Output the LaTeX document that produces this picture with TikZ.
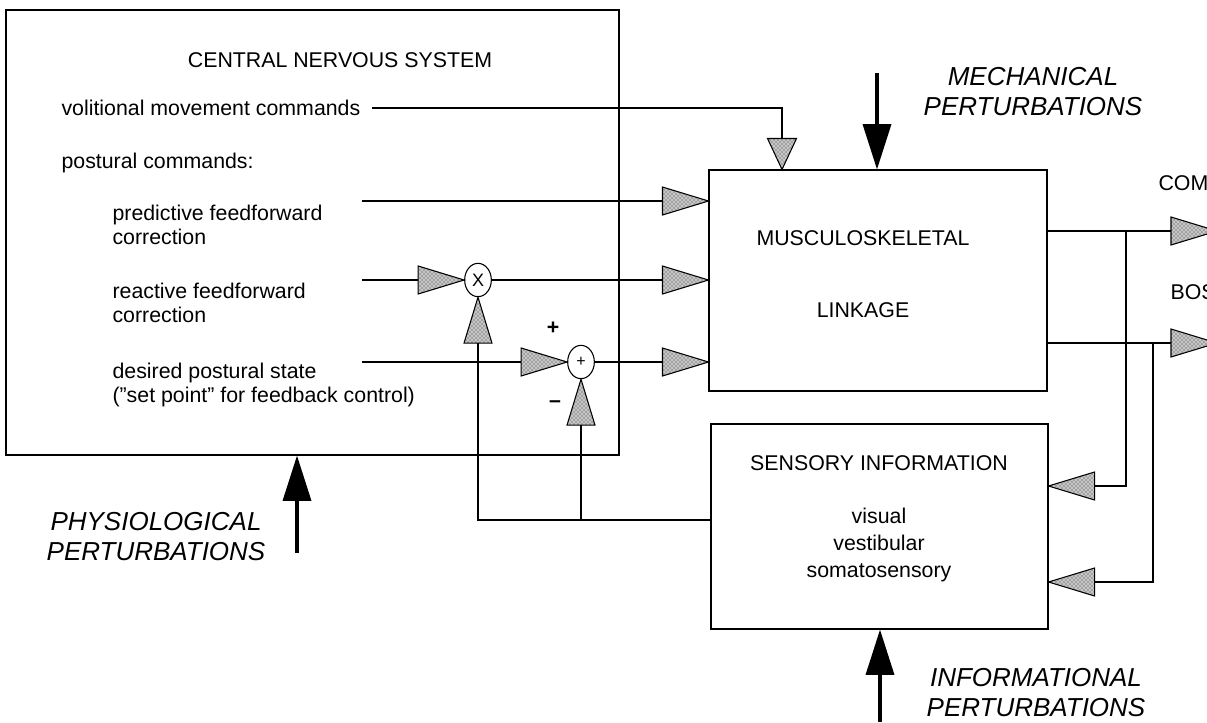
\documentclass[tikz,border=0pt]{standalone}
\usepackage{fontspec}
\setmainfont{Liberation Sans}
\usetikzlibrary{shapes.geometric,arrows.meta,patterns}

\begin{document}
\begin{tikzpicture}[x=0.75pt,y=-0.75pt,line width=0.8pt,
  txt/.style={inner sep=0pt, font=\fontsize{16}{18}\selectfont},
  pert/.style={inner sep=0pt, align=center, font=\fontsize{19.5}{22.5}\selectfont\itshape},
  blk/.style={draw, rectangle, inner sep=0pt},
  gain/.style={draw, isosceles triangle, isosceles triangle stretches, minimum width=21pt, minimum height=34.5pt, inner sep=0pt, outer sep=0pt, preaction={fill=black!22}, pattern=crosshatch dots, pattern color=black!85},
  gainsm/.style={gain, minimum width=21.75pt, minimum height=23.25pt},
  junc/.style={draw, ellipse, minimum width=20pt, minimum height=25pt, inner sep=0pt, font=\fontsize{13.5}{13.5}\selectfont},
  bigarrow/.style={-{Triangle[length=34pt,width=21pt]}, line width=2.6pt}]

\useasboundingbox (0,0) rectangle (1207,722);

\node (cns) [blk, minimum width=459.75pt, minimum height=333.75pt] at (312.5,232.5) {};
\node (musc) [blk, minimum width=253.5pt, minimum height=165.75pt] at (878,280.5) {};
\node (sens) [blk, minimum width=252.75pt, minimum height=153.75pt] at (879.5,526.5) {};

\node (cnstitle) [txt] at (340,60) {CENTRAL NERVOUS SYSTEM};
\node (vol) [txt, anchor=west] at (61,108) {volitional movement commands};
\node (post) [txt, anchor=west] at (61,163) {postural commands:};
\node (pred) [txt, anchor=west, align=left] at (112,225) {predictive feedforward\\correction};
\node (reac) [txt, anchor=west, align=left] at (112,303) {reactive feedforward\\correction};
\node (des) [txt, anchor=west, align=left] at (112,385) {desired postural state\\(\symbol{34}set point\symbol{34} for feedback control)};
\node (plus) [txt, font=\fontsize{16}{18}\selectfont\bfseries] at (553,328) {+};
\node (minus) [txt, font=\fontsize{16}{18}\selectfont\bfseries] at (555,404) {\textendash};

\node (musct) [txt] at (863,238) {MUSCULOSKELETAL};
\node (link) [txt] at (863,310) {LINKAGE};
\node (senst) [txt] at (879,463) {SENSORY INFORMATION};
\node (modal) [txt, align=center, font=\fontsize{16}{20.5}\selectfont] at (879,545) {visual\\vestibular\\somatosensory};
\node (com) [txt, anchor=west] at (1158,183) {COM};
\node (bos) [txt, anchor=west] at (1170,292) {BOS};

\node (mech) [pert] at (1033,92) {MECHANICAL\\PERTURBATIONS};
\node (phys) [pert] at (156,537) {PHYSIOLOGICAL\\PERTURBATIONS};
\node (info) [pert] at (1036,693) {INFORMATIONAL\\PERTURBATIONS};

% command lines
\coordinate (svol) at (372,108);
\coordinate (cvol) at (782,108);
\coordinate (spred) at (362,201);
\coordinate (sreac) at (362,280);
\coordinate (sdes) at (362,362);
\coordinate (ylow) at (0,520);
\coordinate (fcom) at (1126,486);
\coordinate (fbos) at (1153,582);

\node (mul) [junc] at (478,280) {X};
\node (sum) [junc, font=\fontsize{12}{12}\selectfont] at (581,362) {+};

\node (gvol) [gainsm, anchor=apex, rotate=-90] at (cvol |- musc.north) {};
\node (gpred) [gain, anchor=apex] at (musc.west |- spred) {};
\node (greac) [gain, anchor=apex] at (musc.west |- sreac) {};
\node (gdes) [gain, anchor=apex] at (musc.west |- sdes) {};
\node (gmulin) [gain, anchor=apex] at (mul.west) {};
\node (gmulfb) [gain, anchor=apex, rotate=90] at (mul.south) {};
\node (gsumin) [gain, anchor=apex] at (sum.west) {};
\node (gsumfb) [gain, anchor=apex, rotate=90] at (sum.south) {};
\node (gcom) [gain, anchor=lower side] at (1171,231) {};
\node (gbos) [gain, anchor=lower side] at (1171,343) {};
\node (gfcom) [gain, anchor=apex, rotate=180] at (sens.east |- fcom) {};
\node (gfbos) [gain, anchor=apex, rotate=180] at (sens.east |- fbos) {};

\draw (svol) -- (cvol) -- (gvol.lower side);
\draw (spred) -- (gpred.lower side);
\draw (sreac) -- (gmulin.lower side);
\draw (mul.east) -- (greac.lower side);
\draw (sdes) -- (gsumin.lower side);
\draw (sum.east) -- (gdes.lower side);

% outputs and feedback
\draw (musc.east |- gcom.lower side) -- (gcom.lower side);
\draw (musc.east |- gbos.lower side) -- (gbos.lower side);
\draw (gcom.lower side -| fcom) -- (fcom) -- (gfcom.lower side);
\draw (gbos.lower side -| fbos) -- (fbos) -- (gfbos.lower side);
\draw (sens.west |- ylow) -- (mul |- ylow) -- (gmulfb.lower side);
\draw (sum |- ylow) -- (gsumfb.lower side);

% perturbations
\coordinate (mechtop) at (877,73);
\coordinate (physbot) at (297,553);
\coordinate (infobot) at (880,722);
\draw[bigarrow] (mechtop) -- (mechtop |- musc.north);
\draw[bigarrow] (physbot) -- (physbot |- cns.south);
\draw[bigarrow] (infobot) -- (infobot |- sens.south);

\end{tikzpicture}
\end{document}
